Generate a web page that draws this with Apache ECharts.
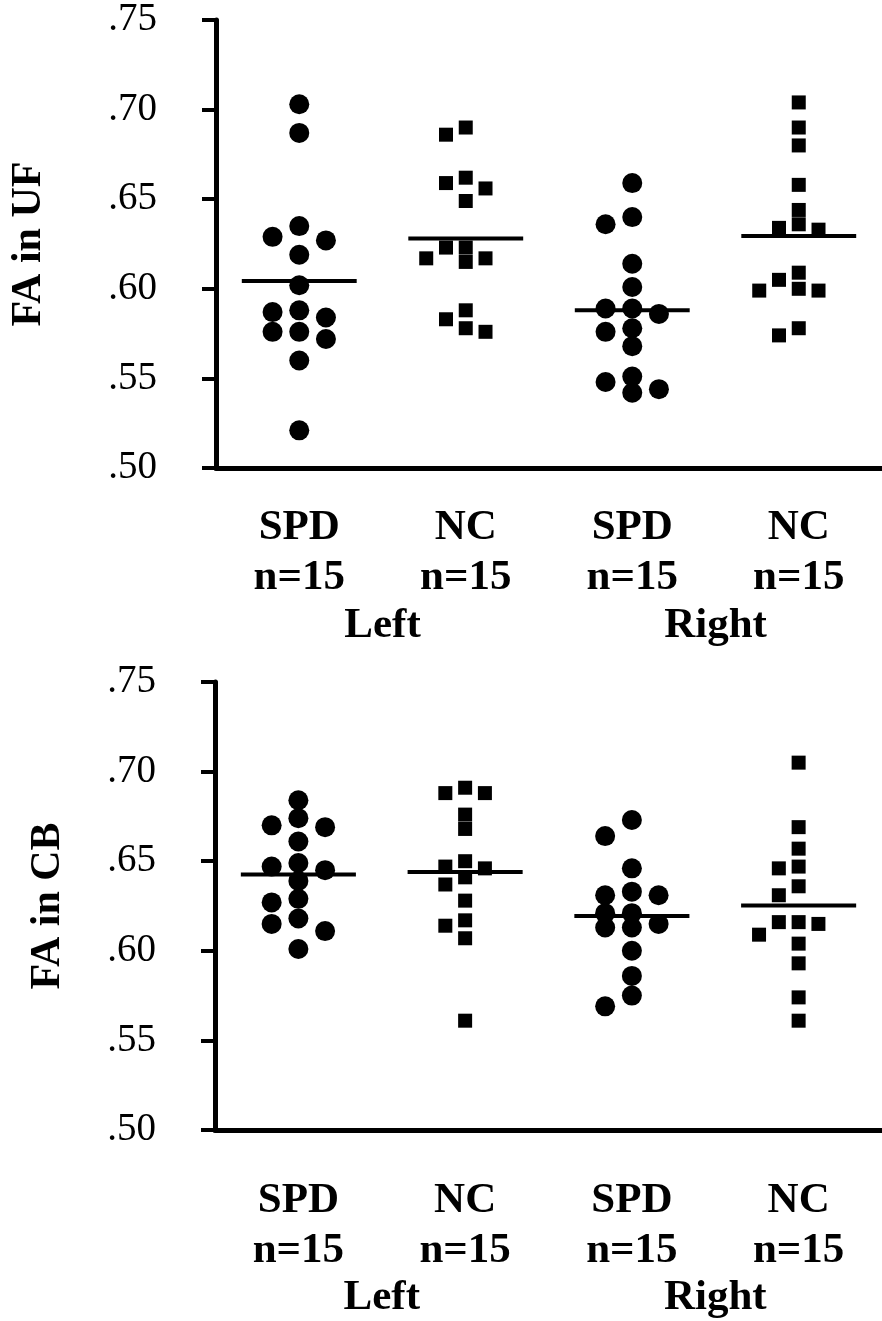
<!DOCTYPE html>
<html>
<head>
<meta charset="utf-8">
<script src="https://cdn.jsdelivr.net/npm/echarts@6/dist/echarts.min.js"></script>
<style>
  html, body { margin: 0; padding: 0; background: #fff; }
  #chart { width: 882px; height: 1321px; }
</style>
</head>
<body>
<div id="chart"></div>
<script>
// categories
const groupLabels = ['SPD\nn=15', 'NC\nn=15', 'SPD\nn=15', 'NC\nn=15'];
const sideLabels = ['Left', 'Right'];
const axisNames = ['FA in UF', 'FA in CB'];
const yMin = 0.50, yMax = 0.75, yStep = 0.05;

// FA in UF (top panel)
const ufSpdLeft  = [0.703, 0.687, 0.635, 0.629, 0.627, 0.619, 0.602, 0.588, 0.587, 0.584, 0.576, 0.576, 0.572, 0.560, 0.521];
const ufNcLeft   = [0.690, 0.686, 0.662, 0.659, 0.656, 0.649, 0.623, 0.623, 0.617, 0.615, 0.617, 0.588, 0.583, 0.578, 0.576];
const ufSpdRight = [0.659, 0.636, 0.640, 0.614, 0.601, 0.589, 0.586, 0.589, 0.576, 0.578, 0.568, 0.548, 0.551, 0.542, 0.544];
const ufNcRight  = [0.704, 0.690, 0.680, 0.658, 0.644, 0.636, 0.633, 0.634, 0.605, 0.599, 0.599, 0.600, 0.609, 0.574, 0.578];

// FA in CB (bottom panel)
const cbSpdLeft  = [0.684, 0.674, 0.669, 0.670, 0.661, 0.647, 0.649, 0.645, 0.639, 0.627, 0.629, 0.618, 0.615, 0.611, 0.601];
const cbNcLeft   = [0.688, 0.688, 0.691, 0.676, 0.668, 0.650, 0.646, 0.647, 0.641, 0.637, 0.628, 0.617, 0.614, 0.607, 0.561];
const cbSpdRight = [0.673, 0.664, 0.646, 0.631, 0.631, 0.633, 0.621, 0.621, 0.615, 0.613, 0.613, 0.600, 0.586, 0.575, 0.569];
const cbNcRight  = [0.705, 0.669, 0.657, 0.647, 0.646, 0.636, 0.631, 0.616, 0.615, 0.616, 0.609, 0.604, 0.593, 0.574, 0.561];

const panels = [
  [ufSpdLeft, ufNcLeft, ufSpdRight, ufNcRight],
  [cbSpdLeft, cbNcLeft, cbSpdRight, cbNcRight]
];

const FONT = 'Liberation Serif';
const gridTops = [20, 682];
const gridH = 448, gridW = 674;
const catPx = gridW / groupLabels.length;
const pxPerY = gridH / (yMax - yMin);
const labelMargin = [35, 46];
const sideMargin = [136, 146];
const nameGaps = [166, 146];

// spread points of one column sideways (column scatter), lanes limited to maxLane
function dodge(values, center, markerPx, lanePx, maxLane) {
  const lanes = [0];
  for (let k = 1; k <= maxLane; k++) lanes.push(-k, k);
  const order = values.map((v, i) => i).sort((a, b) => values[b] - values[a]);
  const placed = [];
  const out = [];
  order.forEach(i => {
    const v = values[i];
    let best = null, bestGap = -1;
    for (const k of lanes) {
      const gaps = placed.filter(p => p.k === k).map(p => Math.abs(p.v - v) * pxPerY);
      const gap = gaps.length ? Math.min.apply(null, gaps) : Infinity;
      if (gap >= markerPx) { best = k; break; }
      if (gap > bestGap) { bestGap = gap; best = k; }
    }
    placed.push({ k: best, v: v });
    out.push([center + best * lanePx / catPx, v]);
  });
  return out;
}

function mean(arr) {
  return arr.reduce((s, v) => s + v, 0) / arr.length;
}

const grid = [], xAxis = [], yAxis = [], series = [];

gridTops.forEach((top, g) => {
  grid.push({ left: 215, top: top, width: gridW, height: gridH });

  xAxis.push({
    type: 'category', gridIndex: g, data: groupLabels, position: 'bottom',
    axisLine: { onZero: false, lineStyle: { color: '#000', width: 5 } },
    axisTick: { alignWithLabel: true, length: 14, lineStyle: { color: '#000', width: 4 } },
    axisLabel: {
      margin: labelMargin[g], color: '#000', fontFamily: FONT, fontWeight: 'bold',
      fontSize: 43, lineHeight: 50, interval: 0
    },
    splitLine: { show: false }
  });
  xAxis.push({
    type: 'category', gridIndex: g, data: sideLabels, position: 'bottom',
    axisLine: { show: false }, axisTick: { show: false },
    axisLabel: {
      margin: sideMargin[g], color: '#000', fontFamily: FONT, fontWeight: 'bold',
      fontSize: 43, lineHeight: 43, interval: 0
    }
  });
  xAxis.push({ type: 'value', gridIndex: g, min: -0.5, max: groupLabels.length - 0.5, show: false });

  yAxis.push({
    type: 'value', gridIndex: g, min: yMin, max: yMax, interval: yStep,
    name: axisNames[g], nameLocation: 'middle', nameGap: nameGaps[g],
    nameTextStyle: { color: '#000', fontFamily: FONT, fontWeight: 'bold', fontSize: 42 },
    axisLine: { show: true, onZero: false, lineStyle: { color: '#000', width: 5 } },
    axisTick: { show: true, length: 14, lineStyle: { color: '#000', width: 4 } },
    axisLabel: {
      margin: 59, color: '#000', fontFamily: FONT, fontSize: 39,
      formatter: v => v.toFixed(2).replace(/^0/, '')
    },
    splitLine: { show: false }
  });

  panels[g].forEach((vals, c) => {
    const isSpd = c % 2 === 0;
    series.push({
      type: 'scatter', xAxisIndex: g * 3 + 2, yAxisIndex: g,
      symbol: isSpd ? 'circle' : 'rect',
      symbolSize: isSpd ? 20 : 14,
      itemStyle: { color: '#000', opacity: 1 },
      data: isSpd ? dodge(vals, c, 17, 27, 1) : dodge(vals, c, 14, 20, 2),
      silent: true
    });
    const m = mean(vals);
    series.push({
      type: 'line', xAxisIndex: g * 3 + 2, yAxisIndex: g,
      symbol: 'none', silent: true,
      lineStyle: { color: '#000', width: 4 },
      data: [[c - 0.345, m], [c + 0.345, m]]
    });
  });
});

const chart = echarts.init(document.getElementById('chart'));
chart.setOption({
  backgroundColor: '#fff',
  animation: false,
  grid: grid,
  xAxis: xAxis,
  yAxis: yAxis,
  series: series
});
</script>
</body>
</html>
